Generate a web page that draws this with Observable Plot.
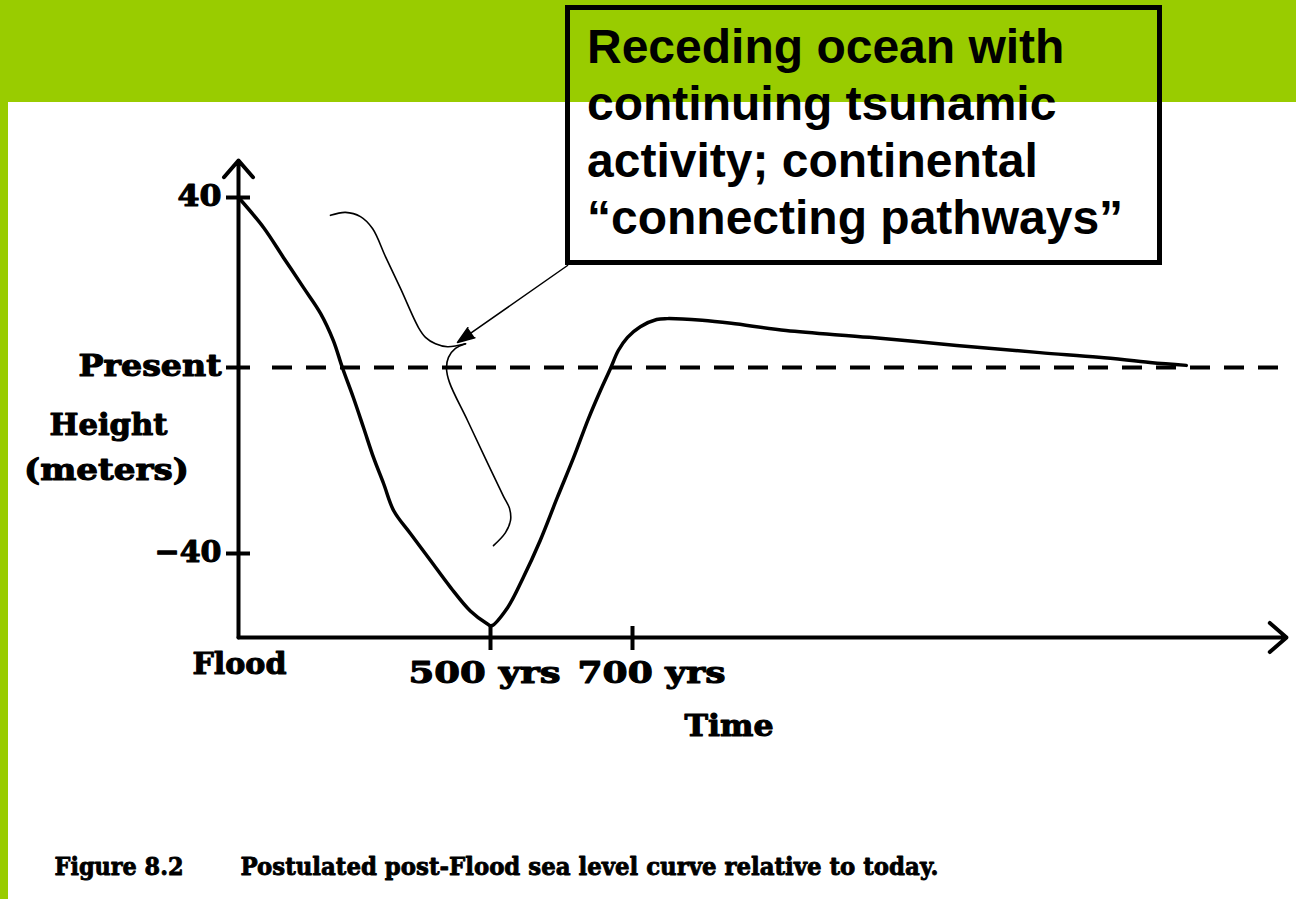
<!DOCTYPE html>
<html>
<head>
<meta charset="utf-8">
<script src="https://cdn.jsdelivr.net/npm/d3@7"></script>
<script src="https://cdn.jsdelivr.net/npm/@observablehq/plot@0.6"></script>
<style>
html, body { margin: 0; padding: 0; background: #fff; }
#page { position: relative; width: 1296px; height: 899px; overflow: hidden; background: #fff; }
#band { position: absolute; left: 0; top: 0; width: 1296px; height: 102px; background: #99cc00; }
#strip { position: absolute; left: 0; top: 0; width: 8px; height: 899px; background: #99cc00; }
#chart { position: absolute; left: 0; top: 0; }
#note { position: absolute; left: 565px; top: 5px; width: 597px; height: 260px; box-sizing: border-box;
  border: 5.5px solid #000; padding: 8px 0 0 17px; font: 700 48px "Liberation Sans", Arial, sans-serif;
  line-height: 57px; white-space: pre; color: #000; }
</style>
</head>
<body>
<div id="page">
  <div id="band"></div>
  <div id="strip"></div>
  <div id="chart"></div>
  <div id="note"></div>
</div>
<script>
// ---- data ----
const years   = [0, 50, 89, 129, 163, 188, 206, 228, 248, 268, 288, 308, 341, 381, 421, 460, 494, 501,
                 524, 546, 570, 594, 617, 638, 655, 669, 680, 693, 711, 734, 749, 798, 839, 916, 1033,
                 1156, 1273, 1356, 1428, 1479];
const heights = [40, 32.9, 25.9, 18.8, 12.7, 6.4, 0, -6.5, -12.9, -19.4, -25.0, -30.8, -35.7, -41.5,
                 -47.3, -52.3, -55.1, -55.5, -51.6, -45.2, -37.2, -28.0, -19.4, -11.0, -4.9, -0.2, 4.0,
                 7.1, 9.6, 11.3, 11.5, 11.1, 10.4, 8.7, 7.1, 5.2, 3.5, 2.4, 1.2, 0.5];

const xTicks = [0, 500, 700];
const xTickLabels = ["Flood", "500 yrs", "700 yrs"];
const yTicks = [40, 0, -40];
const yTickLabels = ["40", "Present", "\u221240"];
const xAxisLabel = "Time";
const yAxisLabel = ["Height", "(meters)"];
const figureNumber = "Figure 8.2";
const captionText = "Postulated post-Flood sea level curve relative to today.";
const noteText = "Receding ocean with\ncontinuing tsunamic\nactivity; continental\n\u201cconnecting pathways\u201d";

// hand-drawn brace annotation (in data units: years, metres)
const braceUpperT = [182.5, 212.3, 242.0, 265.9, 291.6, 321.4, 357.1, 371.0, 390.8, 414.7, 450.4];
const braceUpperH = [35.8, 36.5, 35.5, 32.7, 26.1, 18.6, 9.4, 7.1, 5.6, 4.9, 5.6];
const braceLowerT = [450.4, 430.5, 416.6, 412.7, 418.6, 454.4, 490.0, 518.3, 526.8, 528.2, 521.1, 504.2];
const braceLowerH = [5.6, 4.5, 2.4, -0.2, -3.2, -11.4, -19.6, -27.7, -30.3, -32.9, -35.5, -38.3];
// pointer from note box to the brace tip
const pointerFrom = {t: 608.5, h: 24.0};
const pointerTo = {t: 434.5, h: 5.9};

// axis extents (data units)
const tMax = 1620, hMin = -58, hMax = 48.7;

// ---- build ----
const curve = years.map((t, i) => ({t, h: heights[i]}));
const braceUpper = braceUpperT.map((t, i) => ({t, h: braceUpperH[i]}));
const braceLower = braceLowerT.map((t, i) => ({t, h: braceLowerH[i]}));

const font = {fontFamily: "DejaVu Serif", fontWeight: "bold", fontSize: 30, fill: "#000", stroke: "#000", strokeWidth: 1.1};
const capFont = {fontFamily: "DejaVu Serif", fontWeight: "bold", fontSize: 25, fill: "#000", stroke: "#000", strokeWidth: 0.9};

const chart = Plot.plot({
  width: 1296,
  height: 899,
  margin: 0,
  style: {background: "transparent", overflow: "visible"},
  // the hand-drawn axes are not evenly spaced: piecewise scales
  x: {type: "linear", domain: [0, 500, 700, tMax], range: [238, 490, 632, 1286], axis: null},
  y: {type: "linear", domain: [hMin, -40, 0, 40, hMax], range: [637, 553, 367, 197, 160], axis: null},
  marks: [
    // present-day level
    Plot.ruleY([0], {x1: 0, x2: tMax, insetLeft: 34, stroke: "#000", strokeWidth: 4, strokeDasharray: "20 14"}),
    // axes with arrowheads
    Plot.arrow([0], {x1: 0, y1: hMin, x2: 0, y2: hMax, stroke: "#000", strokeWidth: 4, headAngle: 82, headLength: 8.3}),
    Plot.arrow([0], {x1: 0, y1: hMin, x2: tMax, y2: hMin, stroke: "#000", strokeWidth: 4, headAngle: 82, headLength: 8.3}),
    // ticks
    Plot.ruleY(yTicks, {y: d => d, x1: 0, x2: 0, insetLeft: -12, insetRight: -12, stroke: "#000", strokeWidth: 4}),
    Plot.ruleX(xTicks.filter(d => d > 0), {x: d => d, y1: hMin, y2: hMin, insetTop: -11, insetBottom: -13, stroke: "#000", strokeWidth: 4}),
    // sea level curve
    Plot.line(curve, {x: "t", y: "h", curve: "catmull-rom", stroke: "#000", strokeWidth: 3.5}),
    // brace + pointer annotation
    Plot.line(braceUpper, {x: "t", y: "h", curve: "catmull-rom", stroke: "#000", strokeWidth: 1.6}),
    Plot.line(braceLower, {x: "t", y: "h", curve: "catmull-rom", stroke: "#000", strokeWidth: 1.6}),
    Plot.arrow([0], {x1: pointerFrom.t, y1: pointerFrom.h, x2: pointerTo.t, y2: pointerTo.h,
      stroke: "#000", fill: "#000", strokeWidth: 1.5, headAngle: 40, headLength: 18}),
    // tick labels
    Plot.text(yTicks, {x: 0, y: d => d, text: (d, i) => yTickLabels[i], textAnchor: "end", dx: -17, dy: -1, ...font}),
    Plot.text([xTickLabels[0]], {x: xTicks[0], y: hMin, text: d => d, textAnchor: "middle", dx: 1, dy: 27, ...font}),
    Plot.text([xTickLabels[1]], {x: xTicks[1], y: hMin, text: d => d, textAnchor: "start", dx: -82, dy: 36, ...font}),
    Plot.text([xTickLabels[2]], {x: xTicks[2], y: hMin, text: d => d, textAnchor: "start", dx: -55, dy: 36, ...font}),
    // axis titles
    Plot.text([yAxisLabel[0]], {x: 0, y: 0, text: d => d, textAnchor: "middle", dx: -130, dy: 58, ...font}),
    Plot.text([yAxisLabel[1]], {x: 0, y: 0, text: d => d, textAnchor: "middle", dx: -132, dy: 103, ...font}),
    Plot.text([xAxisLabel], {x: xTicks[2], y: hMin, text: d => d, textAnchor: "start", dx: 52, dy: 89, ...font}),
    // caption
    Plot.text([figureNumber], {frameAnchor: "bottom-left", text: d => d, textAnchor: "start", dx: 54, dy: -25, ...capFont}),
    Plot.text([captionText], {frameAnchor: "bottom-left", text: d => d, textAnchor: "start", dx: 240, dy: -25, ...capFont})
  ]
});

// stretch the typewriter-style labels to the widths they have in the figure
const fitWidths = new Map([
  ["40", 44], ["Present", 143], ["\u221240", 67], ["Height", 118], ["(meters)", 165],
  ["Flood", 94], ["500 yrs", 152], ["700 yrs", 148], ["Time", 89],
  [figureNumber, 129], [captionText, 698]
]);
chart.querySelectorAll("text").forEach(t => {
  const w = fitWidths.get(t.textContent);
  if (w) { t.setAttribute("textLength", w); t.setAttribute("lengthAdjust", "spacingAndGlyphs"); }
});

document.getElementById("chart").appendChild(chart);
document.getElementById("note").textContent = noteText;
</script>
</body>
</html>
